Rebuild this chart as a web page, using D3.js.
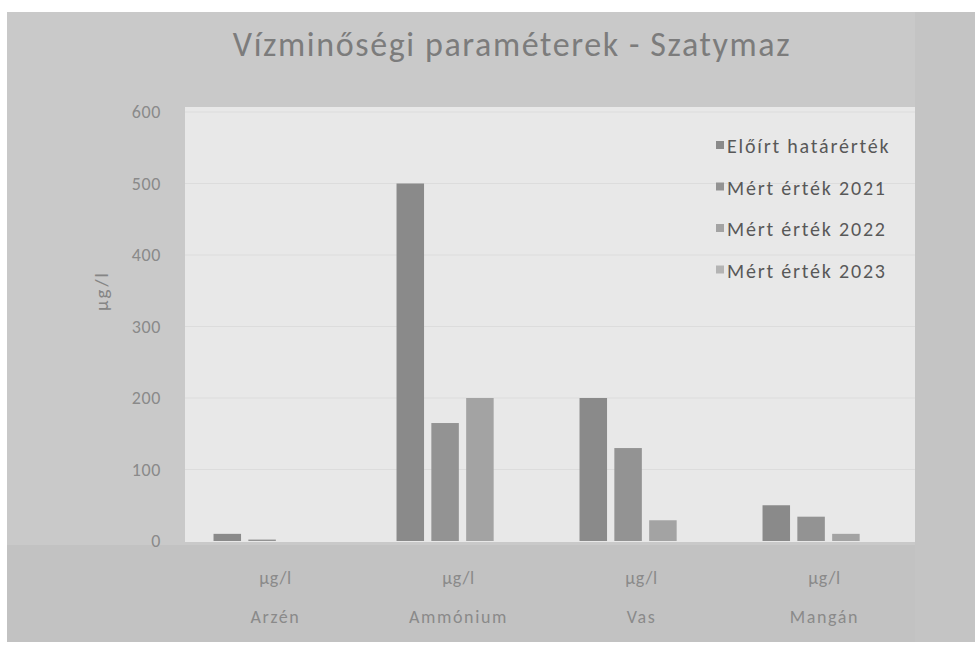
<!DOCTYPE html>
<html><head><meta charset="utf-8">
<script src="https://cdn.jsdelivr.net/npm/d3@7"></script>
<style>html,body{margin:0;padding:0;background:#fff}svg{display:block}</style>
</head><body>
<svg id="c" width="975" height="658"></svg>
<script>
const categories = ["Arzén", "Ammónium", "Vas", "Mangán"];
const units = ["µg/l", "µg/l", "µg/l", "µg/l"];
const seriesNames = ["Előírt határérték", "Mért érték 2021", "Mért érték 2022", "Mért érték 2023"];
const limitValues = [10, 500, 200, 50];
const values2021 = [2, 165, 130, 34];
const values2022 = [0, 200, 29, 10];
const values2023 = [0, 0, 0, 0];
const yTicks = [0, 100, 200, 300, 400, 500, 600];
const seriesColors = ["#8a8a8a", "#939393", "#a3a3a3", "#b4b4b4"];

const allSeries = [limitValues, values2021, values2022, values2023];
const svg = d3.select("#c");
const font = "Carlito, Lato, 'Open Sans', sans-serif";

// backgrounds (scanned page look)
svg.append("rect").attr("width", 975).attr("height", 658).attr("fill", "#ffffff");
svg.append("rect").attr("x", 7).attr("y", 12).attr("width", 968).attr("height", 630).attr("fill", "#c9c9c9");
svg.append("rect").attr("x", 7).attr("y", 545).attr("width", 968).attr("height", 97).attr("fill", "#c2c2c2");
svg.append("rect").attr("x", 915).attr("y", 12).attr("width", 60).attr("height", 630).attr("fill", "#c4c4c4");

const plot = {left: 185, right: 917, top: 107, bottom: 542};
svg.append("rect").attr("x", plot.left).attr("y", plot.top)
  .attr("width", plot.right - plot.left - 2).attr("height", plot.bottom - plot.top)
  .attr("fill", "#e8e8e8");

const y = d3.scaleLinear().domain([0, 600]).range([541, 112]);
const x0 = d3.scaleBand().domain(categories).range([plot.left + 3, plot.right + 3])
  .paddingInner(0.279).paddingOuter(0.1395);
const x1 = d3.scaleBand().domain(seriesNames).range([0, x0.bandwidth()])
  .paddingInner(0.21).paddingOuter(0);

// faint gridlines
svg.append("g").selectAll("line").data(yTicks.slice(1)).join("line")
  .attr("x1", plot.left).attr("x2", plot.right - 2)
  .attr("y1", d => y(d)).attr("y2", d => y(d))
  .attr("stroke", "#dcdcdc").attr("stroke-width", 1);

// y axis
const yAxis = svg.append("g").attr("transform", `translate(${plot.left - 24},0)`)
  .call(d3.axisLeft(y).tickValues(yTicks).tickSize(0).tickPadding(0));
yAxis.select(".domain").remove();
yAxis.selectAll("text").attr("font-family", font).attr("font-size", 18)
  .attr("letter-spacing", 0.6).attr("fill", "#8a8a8a");

svg.append("text").attr("transform", "translate(108,291) rotate(-90)")
  .attr("text-anchor", "middle").attr("font-family", font).attr("font-size", 19)
  .attr("letter-spacing", 2).attr("fill", "#858585").text("µg/l");

// bars
const groups = svg.append("g").selectAll("g").data(categories).join("g")
  .attr("transform", d => `translate(${x0(d)},0)`);
groups.selectAll("rect").data((c, i) => allSeries.map((s, k) => ({name: seriesNames[k], v: s[i], k})))
  .join("rect")
  .attr("x", d => x1(d.name)).attr("width", x1.bandwidth())
  .attr("y", d => y(d.v)).attr("height", d => y(0) - y(d.v))
  .attr("fill", d => seriesColors[d.k]);

// x labels (two levels)
const xAxis = svg.append("g").attr("transform", `translate(0,${plot.bottom})`)
  .call(d3.axisBottom(x0).tickSize(0).tickPadding(29).tickFormat((d, i) => units[i]));
xAxis.select(".domain").remove();
xAxis.selectAll("text").attr("font-family", font).attr("font-size", 18).attr("fill", "#8a8a8a")
  .attr("letter-spacing", 0.6).attr("dx", -4);
svg.append("g").selectAll("text").data(categories).join("text")
  .attr("x", d => x0(d) + x0.bandwidth() / 2 - 4).attr("y", 623)
  .attr("text-anchor", "middle").attr("font-family", font).attr("font-size", 18)
  .attr("letter-spacing", 1.6).attr("fill", "#8a8a8a").text(d => d);

// title
svg.append("text").attr("x", 512).attr("y", 56).attr("text-anchor", "middle")
  .attr("font-family", font).attr("font-size", 34).attr("letter-spacing", 1.6).attr("fill", "#7c7c7c")
  .text("Vízminőségi paraméterek - Szatymaz");

// legend
const lg = svg.append("g").attr("transform", "translate(716,146)");
const li = lg.selectAll("g").data(seriesNames).join("g")
  .attr("transform", (d, i) => `translate(0,${i * 41.5})`);
li.append("rect").attr("x", 0).attr("y", -5).attr("width", 8).attr("height", 8)
  .attr("fill", (d, i) => seriesColors[i]);
li.append("text").attr("x", 11).attr("y", 7).attr("font-family", font).attr("font-size", 20)
  .attr("letter-spacing", 1.8).attr("fill", "#585858").text(d => d);
</script>
</body></html>
